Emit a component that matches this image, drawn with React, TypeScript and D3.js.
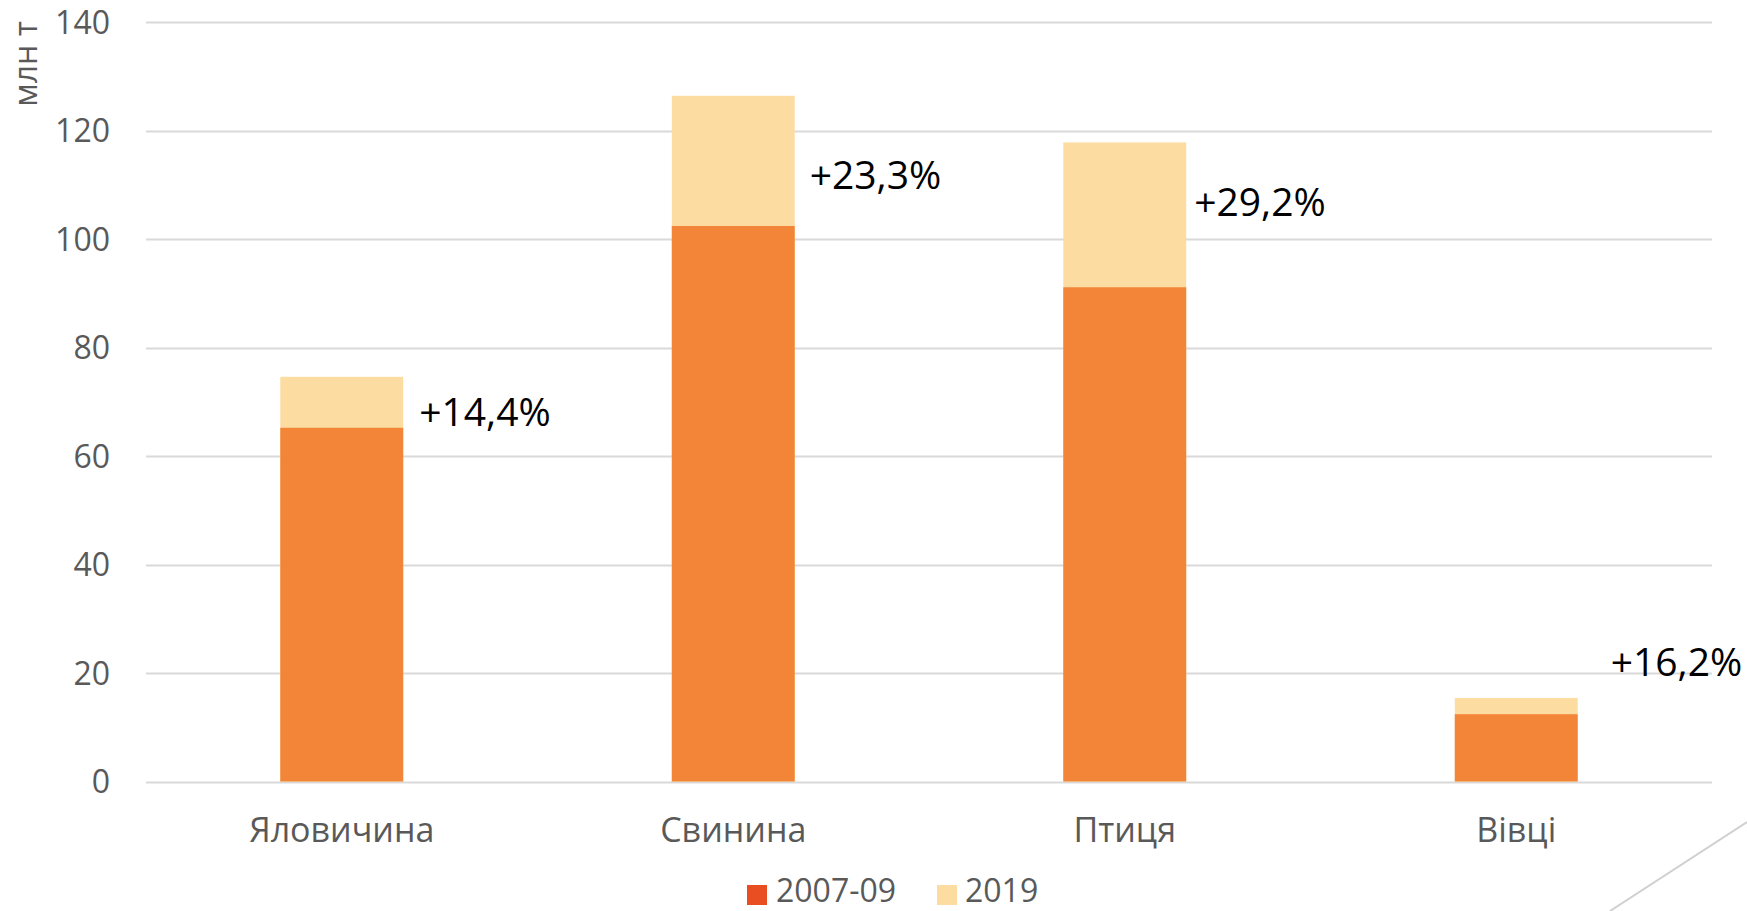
import React, { useEffect } from 'react';
import * as d3 from 'd3';

// дані
const categories = ['Яловичина', 'Свинина', 'Птиця', 'Вівці'];
const base0709 = [65.2, 102.4, 91.1, 12.4];
const total2019 = [74.6, 126.4, 117.8, 15.4];
const growthLabels = ['+14,4%', '+23,3%', '+29,2%', '+16,2%'];
const labelLevel = [68.1, 111.8, 106.9, 22.0]; // рівень підпису, млн т
const yTicks = [0, 20, 40, 60, 80, 100, 120, 140];
const seriesNames = ['2007-09', '2019'];

const W = 1747;
const H = 911;
const margin = { top: 22, right: 35, bottom: 130, left: 146 };
const font = '"Open Sans", "Noto Sans", sans-serif';
const grey = '#595959';

// зсув підписів праворуч від стовпця
const labelDx = [16, 15, 8, 33];

function App() {
  useEffect(() => {
    document.body.style.margin = '0';
  }, []);

  const x = d3
    .scaleBand()
    .domain(categories)
    .range([margin.left, W - margin.right])
    .paddingInner(0.686)
    .paddingOuter(0.343);

  const y = d3
    .scaleLinear()
    .domain([0, 140])
    .range([H - margin.bottom + 0.5, margin.top]);

  return (
    <svg width={W} height={H} style={{ display: 'block', background: '#fff' }}>
      {/* сітка */}
      {yTicks.map((t) => (
        <g key={t}>
          <line
            x1={margin.left}
            x2={W - margin.right}
            y1={Math.round(y(t)) + 0.5}
            y2={Math.round(y(t)) + 0.5}
            stroke="#d9d9d9"
            strokeWidth={2}
          />
          <text
            x={110}
            y={y(t)}
            dy="0.36em"
            textAnchor="end"
            fontFamily={font}
            fontSize={32}
            fill={grey}
          >
            {t}
          </text>
        </g>
      ))}

      <text
        transform={`translate(37,64) rotate(-90)`}
        textAnchor="middle"
        fontFamily={font}
        fontSize={32}
        fill={grey}
      >
        млн т
      </text>

      {/* стовпці: 2019 позаду, 2007-09 поверх */}
      {categories.map((c, i) => (
        <g key={c}>
          <rect
            x={x(c)}
            width={x.bandwidth()}
            y={y(total2019[i])}
            height={y(0) - y(total2019[i])}
            fill="#fddca2"
          />
          <rect
            x={x(c)}
            width={x.bandwidth()}
            y={y(base0709[i])}
            height={y(0) - y(base0709[i])}
            fill="#f28537"
          />
          <text
            x={(x(c) as number) + x.bandwidth() + labelDx[i]}
            y={y(labelLevel[i])}
            dy="0.36em"
            fontFamily={font}
            fontSize={39}
            fill="#000"
          >
            {growthLabels[i]}
          </text>
          <text
            x={(x(c) as number) + x.bandwidth() / 2}
            y={y(0) + 60}
            textAnchor="middle"
            fontFamily={font}
            fontSize={34}
            fill={grey}
          >
            {c}
          </text>
        </g>
      ))}

      {/* легенда */}
      <g fontFamily={font} fontSize={32} fill={grey}>
        <rect x={747} y={885} width={20} height={20} fill="#e84e22" />
        <text x={776} y={902}>{seriesNames[0]}</text>
        <rect x={937} y={885} width={20} height={20} fill="#fddca2" />
        <text x={965} y={902}>{seriesNames[1]}</text>
      </g>

      {/* декоративна лінія */}
      <line x1={1610} y1={911} x2={1747} y2={822} stroke="#d0d0d0" strokeWidth={2} />
    </svg>
  );
}

export default App;
